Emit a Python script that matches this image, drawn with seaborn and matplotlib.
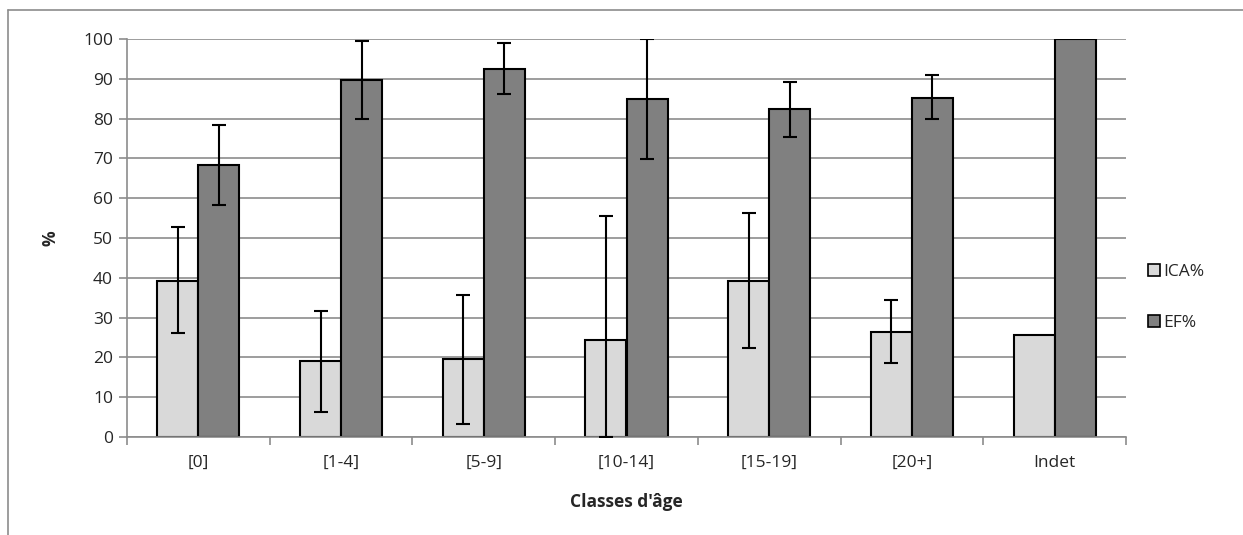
import numpy as np
import pandas as pd
import seaborn as sns
import matplotlib.pyplot as plt
from matplotlib.patches import Patch
from matplotlib.lines import Line2D

# -----------------------------------
# Data
# -----------------------------------
classes = ["[0]", "[1-4]", "[5-9]", "[10-14]", "[15-19]", "[20+]", "Indet"]
series = ["ICA%", "EF%"]

ica = [39.3, 19.0, 19.5, 24.4, 39.3, 26.5, 25.6]
ica_low = [26.1, 6.3, 3.2, 0.0, 22.3, 18.5, np.nan]
ica_high = [52.8, 31.7, 35.8, 55.6, 56.3, 34.3, np.nan]

ef = [68.4, 89.8, 92.5, 85.0, 82.3, 85.3, 100.0]
ef_low = [58.4, 80.0, 86.1, 69.9, 75.5, 79.8, np.nan]
ef_high = [78.5, 99.6, 98.9, 100.0, 89.1, 90.9, np.nan]

colors = {"ICA%": "#D9D9D9", "EF%": "#808080"}

df = pd.DataFrame({
    "classe": classes * 2,
    "serie": ["ICA%"] * len(classes) + ["EF%"] * len(classes),
    "valeur": ica + ef,
})

sns.set_theme(style="white")
plt.rcParams["font.family"] = ["Open Sans", "DejaVu Sans"]

fig = plt.figure(figsize=(12.43, 5.35), dpi=100)
ax = fig.add_axes([127 / 1243, 1 - 437 / 535, 999 / 1243, 398 / 535])

sns.barplot(
    data=df, x="classe", y="valeur", hue="serie",
    order=classes, hue_order=series, palette=colors,
    width=0.575, errorbar=None, legend=False,
    edgecolor="black", linewidth=1.5, saturation=1, ax=ax, zorder=2
)

# asymmetric error bars
bounds = [(ica, ica_low, ica_high), (ef, ef_low, ef_high)]
for cont, (vals, lo, hi) in zip(ax.containers, bounds):
    xs = [b.get_x() + b.get_width() / 2 for b in cont]
    v = np.array(vals)
    yerr = np.vstack([v - np.array(lo), np.array(hi) - v])
    ax.errorbar(xs, v, yerr=yerr, fmt="none", ecolor="black",
                elinewidth=1.5, capsize=5, capthick=1.5, zorder=3)

# axes styling
ax.set_ylim(0, 100)
ax.set_xlim(-0.5, len(classes) - 0.5)
ax.set_yticks(np.arange(0, 101, 10))
ax.yaxis.grid(True, color="#8C8C8C", linewidth=1.2, zorder=0)
ax.set_axisbelow(True)
for s in ["top", "right"]:
    ax.spines[s].set_visible(False)
for s in ["left", "bottom"]:
    ax.spines[s].set_color("#8C8C8C")
    ax.spines[s].set_linewidth(1.2)

ax.set_xticks(np.arange(-0.5, len(classes)), minor=True)
ax.tick_params(axis="x", which="major", length=0, pad=13, labelsize=12.5)
ax.tick_params(axis="x", which="minor", length=6, color="#8C8C8C", width=1.2, direction="out")
ax.tick_params(axis="y", length=6, color="#8C8C8C", width=1.2, direction="out", labelsize=12.5, pad=4)
ax.tick_params(left=True, bottom=True)
ax.xaxis.set_tick_params(which="minor", bottom=True)

ax.set_xlabel("Classes d'âge", fontsize=12.5, fontweight="bold", labelpad=16)
ax.set_ylabel("%", fontsize=12.5, fontweight="bold", labelpad=17)

handles = [Patch(facecolor=colors[s], edgecolor="black", linewidth=1.2, label=s) for s in series]
ax.legend(handles=handles, loc="center left", bbox_to_anchor=(1.006, 0.35),
          frameon=False, fontsize=12.5, handlelength=0.7, handleheight=0.7,
          handletextpad=0.2, labelspacing=2.0)

# outer chart border (top and left visible)
fig.add_artist(Line2D([8 / 1243, 1], [1 - 10 / 535] * 2, color="#8C8C8C", linewidth=1.2))
fig.add_artist(Line2D([8 / 1243] * 2, [0, 1 - 10 / 535], color="#8C8C8C", linewidth=1.2))

fig.savefig("out.png", dpi=100)
